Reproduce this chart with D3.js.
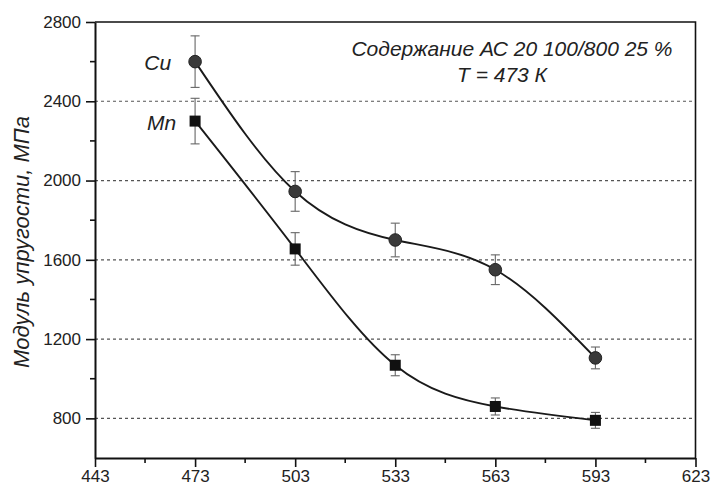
<!DOCTYPE html>
<html>
<head>
<meta charset="utf-8">
<script src="https://cdn.jsdelivr.net/npm/d3@7"></script>
<style>
  body { margin: 0; background: #fff; }
  svg { display: block; font-family: "Liberation Sans", Arial, sans-serif; }
  .grid line { stroke: #555; stroke-width: 1.2; stroke-dasharray: 3,3; }
  .axis path, .axis line { stroke: #111; }
  .axis path { stroke-width: 2; }
  .axis line { stroke-width: 1.6; }
  .axis text { font-size: 17px; fill: #222; }
  .err { stroke: #666; stroke-width: 1.1; }
  .curve { fill: none; stroke: #1a1a1a; stroke-width: 1.9; }
  .note { font-size: 21px; font-style: italic; fill: #222; }
  .ylab { font-size: 22px; font-style: italic; fill: #222; }
</style>
</head>
<body>
<svg width="712" height="488"></svg>
<script>
  // temperatures, K
  const temps = [473, 503, 533, 563, 593];
  // elastic modulus, MPa
  const cuValues = [2600, 1945, 1700, 1550, 1105];
  const cuErrors = [130, 100, 85, 75, 55];
  const mnValues = [2300, 1655, 1068, 860, 790];
  const mnErrors = [115, 82, 53, 43, 40];

  const xTicks = [443, 473, 503, 533, 563, 593, 623];
  const xMinor = [458, 488, 518, 548, 578, 608];
  const yTicks = [800, 1200, 1600, 2000, 2400, 2800];
  const yMinor = [1000, 1400, 1800, 2200, 2600];
  const gridValues = [800, 1200, 1600, 2000, 2400];

  const svg = d3.select('svg');
  const width = 712, height = 488;
  const margin = { top: 22, right: 16.5, bottom: 30, left: 95 };

  const x = d3.scaleLinear().domain([443, 623]).range([margin.left, width - margin.right]);
  const y = d3.scaleLinear().domain([600, 2800]).range([height - margin.bottom, margin.top]);

  // dashed grid
  svg.append('g').attr('class', 'grid')
    .selectAll('line').data(gridValues)
    .enter().append('line')
    .attr('x1', x(443)).attr('x2', x(623))
    .attr('y1', d => y(d)).attr('y2', d => y(d));

  const series = [
    { name: 'Cu', values: cuValues, errors: cuErrors, marker: 'circle' },
    { name: 'Mn', values: mnValues, errors: mnErrors, marker: 'square' }
  ];

  const line = d3.line()
    .x((d, i) => x(temps[i]))
    .y(d => y(d))
    .curve(d3.curveNatural);

  series.forEach(s => {
    const g = svg.append('g');
    const pts = temps.map((t, i) => ({ t, v: s.values[i], e: s.errors[i] }));

    const eb = g.selectAll('g.eb').data(pts).enter().append('g').attr('class', 'eb');
    eb.append('line').attr('class', 'err')
      .attr('x1', d => x(d.t)).attr('x2', d => x(d.t))
      .attr('y1', d => y(d.v + d.e)).attr('y2', d => y(d.v - d.e));
    eb.append('line').attr('class', 'err')
      .attr('x1', d => x(d.t) - 4.5).attr('x2', d => x(d.t) + 4.5)
      .attr('y1', d => y(d.v + d.e)).attr('y2', d => y(d.v + d.e));
    eb.append('line').attr('class', 'err')
      .attr('x1', d => x(d.t) - 4.5).attr('x2', d => x(d.t) + 4.5)
      .attr('y1', d => y(d.v - d.e)).attr('y2', d => y(d.v - d.e));

    g.append('path').attr('class', 'curve').attr('d', line(s.values));

    if (s.marker === 'circle') {
      g.selectAll('circle').data(pts).enter().append('circle')
        .attr('cx', d => x(d.t)).attr('cy', d => y(d.v))
        .attr('r', 6.3)
        .attr('fill', '#3a3a3a').attr('stroke', '#222').attr('stroke-width', 1);
    } else {
      g.selectAll('rect').data(pts).enter().append('rect')
        .attr('x', d => x(d.t) - 5.5).attr('y', d => y(d.v) - 5.5)
        .attr('width', 11).attr('height', 11)
        .attr('fill', '#111');
    }
  });

  // axes
  const xAxis = svg.append('g').attr('class', 'axis')
    .attr('transform', `translate(0,${height - margin.bottom})`)
    .call(d3.axisBottom(x).tickValues(xTicks).tickSize(9).tickPadding(3).tickSizeOuter(0).tickFormat(d3.format('d')));
  xAxis.selectAll('.minor').data(xMinor).enter().append('line')
    .attr('class', 'minor')
    .attr('x1', d => x(d)).attr('x2', d => x(d))
    .attr('y1', 0).attr('y2', 5);

  const yAxis = svg.append('g').attr('class', 'axis')
    .attr('transform', `translate(${margin.left},0)`)
    .call(d3.axisLeft(y).tickValues(yTicks).tickSize(9).tickPadding(5).tickSizeOuter(0).tickFormat(d3.format('d')));
  yAxis.selectAll('.minor').data(yMinor).enter().append('line')
    .attr('class', 'minor')
    .attr('x1', 0).attr('x2', -5)
    .attr('y1', d => y(d)).attr('y2', d => y(d));

  // frame top/right
  svg.append('path')
    .attr('d', `M${x(443)},${y(2800)}H${x(623)}V${y(600)}`)
    .attr('fill', 'none').attr('stroke', '#111').attr('stroke-width', 1.6);

  // series labels
  svg.append('text').attr('class', 'note')
    .attr('x', x(473) - 24).attr('y', y(2600) + 8)
    .attr('text-anchor', 'end').text('Cu');
  svg.append('text').attr('class', 'note')
    .attr('x', x(473) - 19).attr('y', y(2300) + 9)
    .attr('text-anchor', 'end').text('Mn');

  // annotation
  svg.append('text').attr('class', 'note')
    .attr('x', 512).attr('y', 56).attr('text-anchor', 'middle')
    .text('Содержание АС 20 100/800 25 %');
  svg.append('text').attr('class', 'note')
    .attr('x', 502).attr('y', 82).attr('text-anchor', 'middle')
    .text('T = 473 К');

  // y label
  svg.append('text').attr('class', 'ylab')
    .attr('transform', `translate(29,${(y(600) + y(2800)) / 2 + 2}) rotate(-90)`)
    .attr('text-anchor', 'middle')
    .text('Модуль упругости, МПа');
</script>
</body>
</html>
